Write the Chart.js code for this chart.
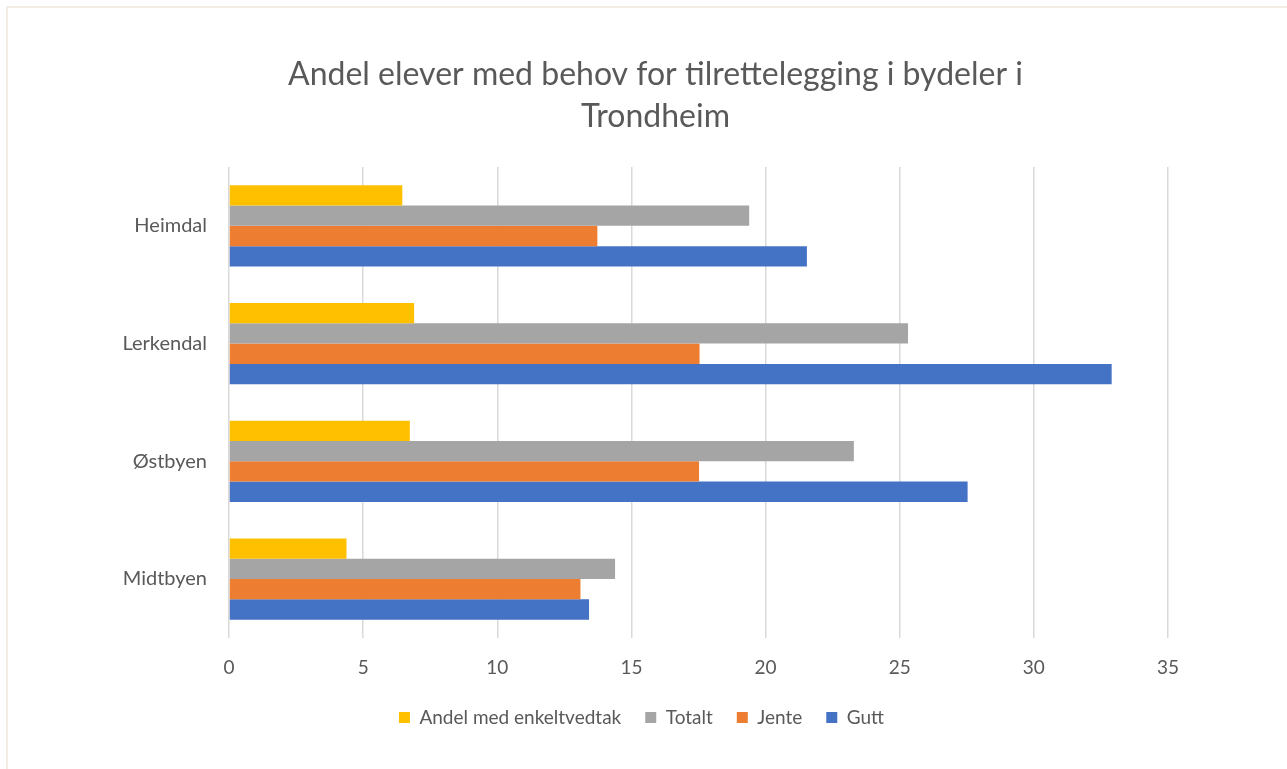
<!DOCTYPE html>
<html>
<head>
<meta charset="utf-8">
<script src="https://cdn.jsdelivr.net/npm/chart.js@4"></script>
<style>
    html, body { margin: 0; padding: 0; background: #ffffff; overflow: hidden; }
    #ramme {
        position: absolute; left: 6px; top: 6px; width: 1300px; height: 780px;
        border: 2px solid #f2eee6; box-sizing: border-box;
    }
    #boks { position: absolute; left: 0; top: 0; width: 1287px; height: 769px; }
</style>
</head>
<body>
<div id="ramme"></div>
<div id="boks"><canvas id="grafikBydel"></canvas></div>
<script>
// ==========================
// DATA
// ==========================
const bydeler = ['Heimdal', 'Lerkendal', 'Østbyen', 'Midtbyen'];
const andelEnkeltvedtak = [6.46, 6.9, 6.74, 4.38];
const totalt = [19.39, 25.31, 23.29, 14.39];
const jente = [13.73, 17.54, 17.52, 13.1];
const gutt = [21.54, 32.9, 27.53, 13.42];
const tittel = ['Andel elever med behov for tilrettelegging i bydeler i', 'Trondheim'];

const tekstFarge = '#595959';
const fontNavn = 'Lato, "Open Sans", sans-serif';

// tittel og forklaring står litt til høyre for midten i originalen
const geserTittel = {
    id: 'geserTittel',
    afterLayout(chart) {
        chart.titleBlock.left += 19;
        chart.titleBlock.right += 19;
        chart.legend.left += 5;
        chart.legend.right += 5;
    }
};

const ctx = document.getElementById('grafikBydel').getContext('2d');

new Chart(ctx, {
    type: 'bar',
    data: {
        labels: bydeler,
        datasets: [
            { label: 'Andel med enkeltvedtak', data: andelEnkeltvedtak, backgroundColor: '#FFC000' },
            { label: 'Totalt', data: totalt, backgroundColor: '#A5A5A5' },
            { label: 'Jente', data: jente, backgroundColor: '#ED7D31' },
            { label: 'Gutt', data: gutt, backgroundColor: '#4472C4' }
        ]
    },
    plugins: [geserTittel],
    options: {
        indexAxis: 'y',
        responsive: true,
        maintainAspectRatio: false,
        animation: false,
        datasets: {
            bar: { categoryPercentage: 0.69, barPercentage: 1.0 }
        },
        layout: {
            // venstre padding + y-aksens bredde = 229 (x = 0)
            padding: { left: 105, right: 119, top: 0, bottom: 32 }
        },
        plugins: {
            title: {
                display: true,
                text: tittel,
                color: tekstFarge,
                font: { family: fontNavn, size: 32, weight: 'normal', lineHeight: 1.3125 },
                padding: { top: 54, bottom: 29 }
            },
            legend: {
                position: 'bottom',
                labels: {
                    color: tekstFarge,
                    font: { family: fontNavn, size: 19 },
                    boxWidth: 11,
                    boxHeight: 11,
                    padding: 24
                }
            },
            tooltip: { enabled: false }
        },
        scales: {
            x: {
                min: 0,
                max: 35,
                ticks: {
                    stepSize: 5,
                    color: tekstFarge,
                    font: { family: fontNavn, size: 19 },
                    padding: 19
                },
                grid: { color: '#D9D9D9', lineWidth: 1.5, drawTicks: false },
                border: { display: false },
                afterFit: function (skala) {
                    skala.height = skala.height - 14.7;
                }
            },
            y: {
                ticks: {
                    color: tekstFarge,
                    font: { family: fontNavn, size: 20 },
                    padding: 22
                },
                grid: { display: false, drawTicks: false },
                border: { display: false },
                afterFit: function (skala) {
                    skala.width = 124;
                }
            }
        }
    }
});
</script>
</body>
</html>
